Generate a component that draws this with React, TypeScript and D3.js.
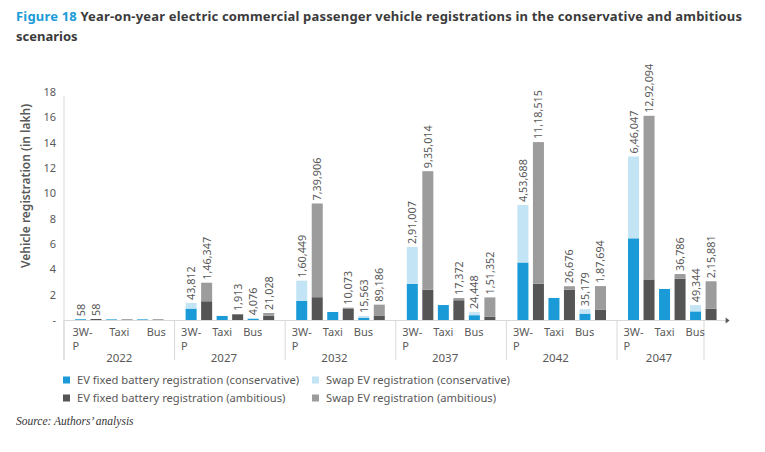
import React from "react";
import * as d3 from "d3";

const years = ["2022", "2027", "2032", "2037", "2042", "2047"];
const vehicles = ["3W-P", "Taxi", "Bus"];
const yTicks = [0, 2, 4, 6, 8, 10, 12, 14, 16, 18];

// EV fixed battery registrations, in lakh, per year: [3W-P, Taxi, Bus]
const fixedConservative = [
  [0.06, 0.05, 0.05],
  [0.9, 0.32, 0.1],
  [1.5, 0.63, 0.16],
  [2.85, 1.18, 0.38],
  [4.54, 1.74, 0.5],
  [6.45, 2.45, 0.68],
];
const fixedAmbitious = [
  [0.08, 0.04, 0.04],
  [1.48, 0.45, 0.34],
  [1.8, 0.87, 0.32],
  [2.4, 1.56, 0.27],
  [2.86, 2.4, 0.8],
  [3.2, 3.26, 0.9],
];
// Swap EV registrations, in vehicles, per year: [3W-P, Taxi, Bus]
const swapConservative = [
  [58, 0, 0],
  [43812, 0, 4076],
  [160449, 0, 15563],
  [291007, 0, 24448],
  [453688, 0, 35179],
  [646047, 0, 49344],
];
const swapAmbitious = [
  [58, 0, 0],
  [146347, 1913, 21028],
  [739906, 10073, 89186],
  [935014, 17372, 151352],
  [1118515, 26676, 187694],
  [1292094, 36786, 215881],
];

const legendItems = [
  { label: "EV fixed battery registration (conservative)", color: "#1a9bd7" },
  { label: "Swap EV registration (conservative)", color: "#c3e4f4" },
  { label: "EV fixed battery registration (ambitious)", color: "#555555" },
  { label: "Swap EV registration (ambitious)", color: "#9c9c9c" },
];

const COLORS = {
  fixedC: "#1a9bd7",
  swapC: "#c3e4f4",
  fixedA: "#555555",
  swapA: "#9c9c9c",
};

function fmtIN(n: number): string {
  const s = String(Math.round(n));
  if (s.length <= 3) return s;
  const last3 = s.slice(-3);
  let rest = s.slice(0, -3);
  const parts: string[] = [];
  while (rest.length > 2) {
    parts.unshift(rest.slice(-2));
    rest = rest.slice(0, -2);
  }
  if (rest.length) parts.unshift(rest);
  return parts.join(",") + "," + last3;
}

const FONT = "'Noto Sans', 'Open Sans', sans-serif";
const TXT = "#595959";

export default function App() {
  const W = 765;
  const H = 452;
  const x0 = 64;
  const groupW = 110.6;
  const baseY = 320;

  const y = d3.scaleLinear().domain([0, 18]).range([baseY, 92]);
  const xGroup = d3
    .scaleBand<string>()
    .domain(years)
    .range([x0, x0 + groupW * years.length])
    .paddingInner(0)
    .paddingOuter(0);
  const slots: string[] = [];
  vehicles.forEach((v) => {
    slots.push(v + "|c");
    slots.push(v + "|a");
  });
  const xSlot = d3
    .scaleBand<string>()
    .domain(slots)
    .range([0, xGroup.bandwidth()])
    .paddingInner(0.29)
    .paddingOuter(0.71);
  const bw = xSlot.bandwidth();

  const bars: React.ReactNode[] = [];
  const labels: React.ReactNode[] = [];
  years.forEach((yr, gi) => {
    const gx = xGroup(yr) as number;
    vehicles.forEach((v, vi) => {
      const scen = [
        { key: "c", fixed: fixedConservative[gi][vi], swap: swapConservative[gi][vi], cf: COLORS.fixedC, cs: COLORS.swapC },
        { key: "a", fixed: fixedAmbitious[gi][vi], swap: swapAmbitious[gi][vi], cf: COLORS.fixedA, cs: COLORS.swapA },
      ];
      scen.forEach((s) => {
        const bx = gx + (xSlot(v + "|" + s.key) as number);
        const swapL = s.swap / 1e5;
        const yFixed = y(s.fixed);
        const yTot = y(s.fixed + swapL);
        bars.push(
          <rect key={`f-${yr}-${v}-${s.key}`} x={bx} y={yFixed} width={bw} height={baseY - yFixed} fill={s.cf} />
        );
        if (swapL > 0) {
          bars.push(
            <rect key={`s-${yr}-${v}-${s.key}`} x={bx} y={yTot} width={bw} height={yFixed - yTot} fill={s.cs} />
          );
          const lx = bx + bw / 2 + 4;
          const ly = yTot - 3;
          labels.push(
            <text
              key={`l-${yr}-${v}-${s.key}`}
              transform={`translate(${lx},${ly}) rotate(-90)`}
              fontSize={10.8}
              fill={TXT}
              fontFamily={FONT}
            >
              {fmtIN(s.swap)}
            </text>
          );
        }
      });
    });
  });

  // category and year labels
  const catLabels: React.ReactNode[] = [];
  years.forEach((yr, gi) => {
    const gx = xGroup(yr) as number;
    vehicles.forEach((v, vi) => {
      let lx: number;
      if (gi === 0) {
        const c = gx + ((vi + 0.5) * xGroup.bandwidth()) / 3;
        lx = vi === 0 ? c - 10 : c - (v === "Taxi" ? 10 : 9.5);
      } else {
        lx = gx + (xSlot(v + "|c") as number) - 4.5;
      }
      if (v === "3W-P") {
        catLabels.push(
          <text key={`c-${yr}-${v}`} x={lx} y={336} fontSize={11} fill={TXT} fontFamily={FONT}>
            3W-
          </text>
        );
        catLabels.push(
          <text key={`c2-${yr}-${v}`} x={lx} y={349.5} fontSize={11} fill={TXT} fontFamily={FONT}>
            P
          </text>
        );
      } else {
        catLabels.push(
          <text key={`c-${yr}-${v}`} x={lx} y={336} fontSize={11} fill={TXT} fontFamily={FONT}>
            {v}
          </text>
        );
      }
    });
    const gEnd = gi === years.length - 1 ? 704 : gx + xGroup.bandwidth();
    const cx = (gx + gEnd) / 2 + (gi === 0 ? 0 : gi === years.length - 1 ? -1.5 : -6);
    catLabels.push(
      <text key={`y-${yr}`} x={cx} y={362} fontSize={11.5} fill={TXT} fontFamily={FONT} textAnchor="middle">
        {yr}
      </text>
    );
  });

  const separators: number[] = years.map((yr) => xGroup(yr) as number);
  separators.push(704);
  const axisEnd = x0 + groupW * years.length - 2;

  return (
    <svg
      width={W}
      height={H}
      style={{ position: "absolute", left: 0, top: 0, background: "#ffffff" }}
    >
      <rect width={W} height={H} fill="#ffffff" />
      <text
        x={16}
        y={21}
        fontFamily={FONT}
        fontSize={13}
        fontWeight={700}
        fill="#3b3b3b"
        textLength={726}
        lengthAdjust="spacing"
      >
        <tspan fill="#1a9bd7">Figure 18</tspan>
        <tspan> Year-on-year electric commercial passenger vehicle registrations in the conservative and ambitious</tspan>
      </text>
      <text x={16} y={41} fontFamily={FONT} fontSize={13} fontWeight={700} fill="#3b3b3b">
        scenarios
      </text>

      {/* y axis title */}
      <text
        transform={`translate(30,186) rotate(-90)`}
        textAnchor="middle"
        fontFamily={FONT}
        fontSize={12}
        fontWeight={600}
        fill={TXT}
      >
        Vehicle registration (in lakh)
      </text>

      {/* y ticks */}
      {yTicks.map((t) => (
        <text key={t} x={56} y={y(t) + 4} textAnchor="end" fontSize={11} fill={TXT} fontFamily={FONT}>
          {t === 0 ? "-" : t}
        </text>
      ))}

      {/* axis lines */}
      <line x1={x0} x2={x0} y1={96} y2={360} stroke="#d9d9d9" strokeWidth={1} />
      {separators.map((sx, i) => (
        <line key={i} x1={sx} x2={sx} y1={baseY} y2={360} stroke="#d9d9d9" strokeWidth={1} />
      ))}

      {bars}
      <line x1={x0} x2={axisEnd} y1={baseY + 0.5} y2={baseY + 0.5} stroke="#d9d9d9" strokeWidth={1} />
      <path d={`M${axisEnd},${baseY - 2.5} L${axisEnd + 4},${baseY + 0.5} L${axisEnd},${baseY + 3.5} Z`} fill="#595959" />
      {labels}
      {catLabels}

      {/* legend */}
      {legendItems.map((it, i) => {
        const col = i % 2;
        const row = Math.floor(i / 2);
        const lx = col === 0 ? 63 : 312;
        const ly = 380 + row * 18;
        return (
          <g key={it.label}>
            <rect x={lx} y={ly - 3.5} width={7} height={7} fill={it.color} />
            <text x={lx + 14} y={ly + 4} fontSize={11.2} fill={TXT} fontFamily={FONT}>
              {it.label}
            </text>
          </g>
        );
      })}

      <text x={16} y={425} fontFamily="'Liberation Serif', 'DejaVu Serif', serif" fontStyle="italic" fontSize={11.5} fill="#333333">
        Source: Authors’ analysis
      </text>
    </svg>
  );
}
